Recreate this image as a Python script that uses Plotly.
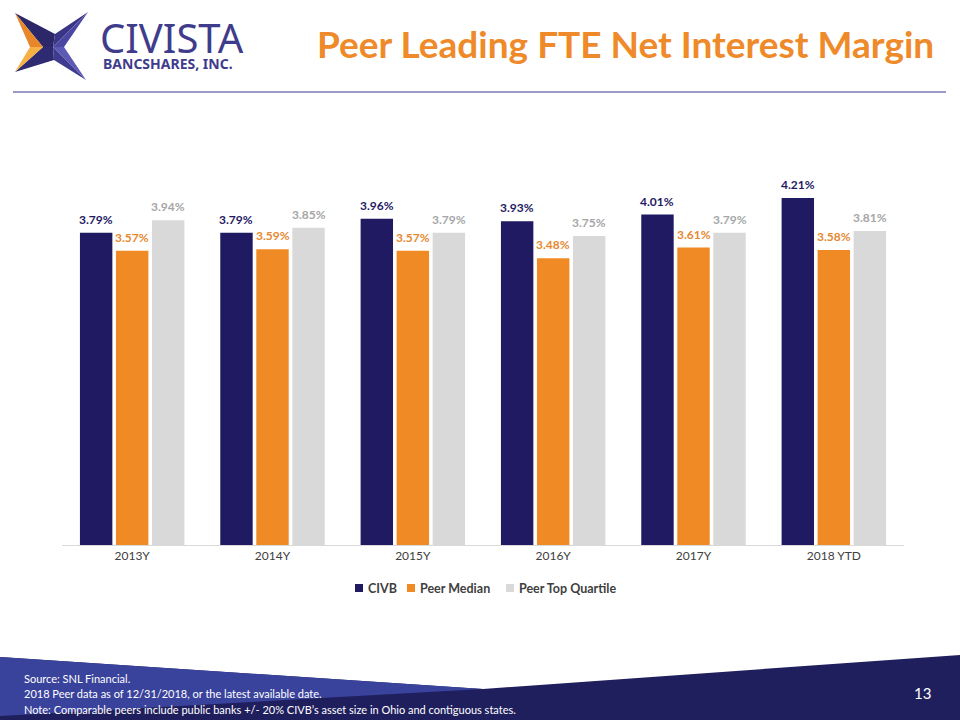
import plotly.graph_objects as go

categories = ["2013Y", "2014Y", "2015Y", "2016Y", "2017Y", "2018 YTD"]
civb = [3.79, 3.79, 3.96, 3.93, 4.01, 4.21]
peer_median = [3.57, 3.59, 3.57, 3.48, 3.61, 3.58]
peer_top_quartile = [3.94, 3.85, 3.79, 3.75, 3.79, 3.81]

series = [
    ("CIVB", civb, "#1f1a62", "#1f1a62"),
    ("Peer Median", peer_median, "#f08a24", "#e6892f"),
    ("Peer Top Quartile", peer_top_quartile, "#d9d9d9", "#a6a6a6"),
]

W, H = 960, 720
L, R, T, B = 62, 56, 158, 175
PW, PH = W - L - R, H - T - B
FONT = "Lato"


def px(x):
    return (x - L) / PW


def py(y):
    return (H - B - y) / PH


def path(points):
    return "M " + " L ".join(f"{px(x):.5f},{py(y):.5f}" for x, y in points) + " Z"


fig = go.Figure()
for name, vals, color, _ in series:
    fig.add_trace(go.Bar(name=name, x=categories, y=vals, marker=dict(color=color, line=dict(width=0))))

BARGAP, GROUPGAP = 0.23, 0.1
slot = PW / len(categories) * (1 - BARGAP) / len(series)

annotations = []
for i, (name, vals, _, lc) in enumerate(series):
    for c, v in zip(categories, vals):
        annotations.append(dict(
            x=c, y=v, xref="x", yref="y", text=f"<b>{v:.2f}%</b>", showarrow=False,
            xshift=(i - 1) * slot, yshift=4, yanchor="bottom", xanchor="center",
            font=dict(family=FONT, size=12, color=lc)))

# Title
annotations.append(dict(
    x=px(936), y=py(43), xref="paper", yref="paper", xanchor="right", yanchor="middle",
    text="<b>Peer Leading FTE Net Interest Margin</b>", showarrow=False,
    font=dict(family=FONT, size=37, color="#ef8a2a")))
# Logo text
annotations.append(dict(
    x=px(98), y=py(37), xref="paper", yref="paper", xanchor="left", yanchor="middle",
    text="CIVISTA", showarrow=False, height=34, font=dict(family="Noto Sans", size=40, color="#3f3c8c")))
annotations.append(dict(
    x=px(101), y=py(63.5), xref="paper", yref="paper", xanchor="left", yanchor="middle",
    text="<b>BANCSHARES, INC.</b>", showarrow=False, height=15, font=dict(family="Noto Sans", size=14, color="#3f3c8c")))
# Footer text
footer_lines = [
    "Source: SNL Financial.",
    "2018 Peer data as of 12/31/2018, or the latest available date.",
    "Note: Comparable peers include public banks +/- 20% CIVB\u2019s asset size in Ohio and contiguous states.",
]
for j, line in enumerate(footer_lines):
    annotations.append(dict(
        x=px(22), y=py(678 + j * 15.5), xref="paper", yref="paper", xanchor="left", yanchor="middle",
        text=line, showarrow=False, font=dict(family=FONT, size=11, color="white")))
annotations.append(dict(
    x=px(933), y=py(693), xref="paper", yref="paper", xanchor="right", yanchor="middle",
    text="13", showarrow=False, font=dict(family=FONT, size=15, color="white")))

# Manual legend (squares + labels) matching the reference spacing
legend_items = [(355, 366), (407, 418), (506, 517)]
shapes = []
for (sx, tx), (name, _, color, _) in zip(legend_items, series):
    shapes.append(dict(type="rect", xref="paper", yref="paper", x0=px(sx), x1=px(sx + 8),
                       y0=py(592), y1=py(584), fillcolor=color, line=dict(width=0)))
    annotations.append(dict(
        x=px(tx), y=py(588), xref="paper", yref="paper", xanchor="left", yanchor="middle",
        text=f"<b>{name}</b>", showarrow=False, font=dict(family=FONT, size=12.5, color="#404040")))

shapes += [
    # header rule
    dict(type="line", xref="paper", yref="paper", x0=px(13), x1=px(946), y0=py(92), y1=py(92),
         line=dict(color="#9a9cc8", width=2)),
    # footer dark band
    dict(type="path", xref="paper", yref="paper", path=path([(0, 720), (0, 657), (483, 689), (960, 655), (960, 720)]),
         fillcolor="#201f5e", line=dict(width=0), layer="below"),
    # footer light wedge
    dict(type="path", xref="paper", yref="paper", path=path([(0, 657), (483, 689), (0, 716)]),
         fillcolor="#3a439c", line=dict(width=0), layer="below"),
]

# Logo star
TL, TR, BR, BL = (15, 13), (88, 12), (86, 80), (15, 72)
NT, NR, NB, NL = (55, 34), (64, 47), (54, 60), (43, 47)
C = (53, 47)
star_facets = [
    ([TL, NT, C, NL], "#2b2768"),
    ([NT, TR, C], "#3a3585"),
    ([TR, NR, C], "#4a46a2"),
    ([NR, BR, C], "#5d59b6"),
    ([BR, NB, C], "#3f3b8f"),
    ([NB, BL, NL, C], "#2f2b72"),
    ([TL, NL, (30, 47)], "#e8862a"),
    ([(30, 47), NL, BL], "#f6b044"),
]
for pts, col in star_facets:
    shapes.append(dict(type="path", xref="paper", yref="paper", path=path(pts),
                       fillcolor=col, line=dict(width=0)))

fig.update_layout(
    width=W, height=H,
    margin=dict(l=L, r=R, t=T, b=B),
    paper_bgcolor="white", plot_bgcolor="white",
    barmode="group", bargap=BARGAP, bargroupgap=GROUPGAP,
    showlegend=False,
    xaxis=dict(showline=True, linecolor="#d9d9d9", linewidth=1, ticks="", showgrid=False,
               tickfont=dict(family=FONT, size=12, color="#404040")),
    yaxis=dict(range=[0, PH / 82.4], visible=False, showgrid=False, zeroline=False),
    annotations=annotations,
    shapes=shapes,
    font=dict(family=FONT),
)

fig.write_html("out.html", config={"displayModeBar": False},
               post_script="document.body.style.margin='0';document.body.style.overflow='hidden';")
